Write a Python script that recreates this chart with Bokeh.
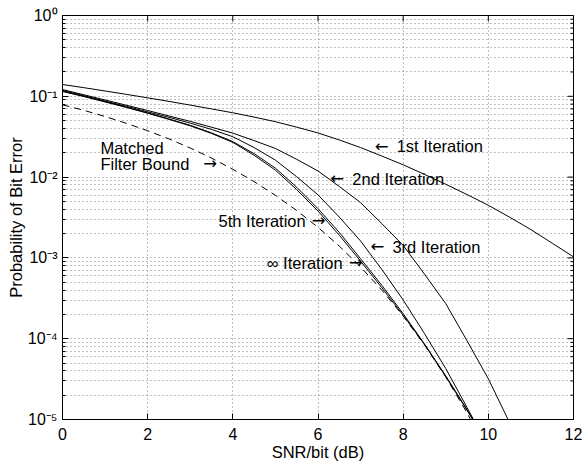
import math
from bokeh.plotting import figure
from bokeh.models import FixedTicker, CustomJSTickFormatter
from bokeh.core.properties import value
from bokeh.embed import file_html
from bokeh.resources import INLINE

# ---------------- data ----------------
snr_db = [0, 0.5, 1, 1.5, 2, 2.5, 3, 3.5, 4, 4.5, 5, 5.5, 6, 6.5, 7, 7.5, 8,
          8.5, 9, 9.5, 10, 10.5, 11, 11.5, 12]

ber_iter1 = [0.1400, 0.1279, 0.1164, 0.1057, 0.0957, 0.0865, 0.0778, 0.0698,
             0.0625, 0.0553, 0.0485, 0.0415, 0.0352, 0.0288, 0.0232, 0.0182,
             0.0142, 0.0108, 0.00815, 0.00608, 0.00448, 0.00319, 0.00224,
             0.00152, 0.00103]
ber_iter2 = [0.1213, 0.1045, 0.0900, 0.0775, 0.0667, 0.0571, 0.0489, 0.0414,
             0.0350, 0.0283, 0.0226, 0.0166, 0.0119, 0.00766, 0.00483, 0.00265,
             0.00143, 6.30e-4, 2.72e-4, 9.42e-5, 3.19e-5, 9.12e-6, 2.54e-6]
ber_iter3 = [0.1180, 0.1019, 0.0875, 0.0752, 0.0641, 0.0550, 0.0465, 0.0389,
             0.0316, 0.0232, 0.0162, 0.0101, 0.00603, 0.00320, 0.00162, 7.16e-4,
             3.02e-4, 1.16e-4, 4.27e-5, 1.41e-5, 4.47e-6]
ber_iter5 = [0.1161, 0.1005, 0.0861, 0.0736, 0.0624, 0.0525, 0.0437, 0.0353,
             0.0275, 0.0195, 0.0129, 0.00750, 0.00407, 0.00207, 9.77e-4, 4.57e-4,
             2.04e-4, 8.61e-5, 3.47e-5, 1.33e-5, 4.90e-6]
ber_iter_inf = [0.1148, 0.0993, 0.0851, 0.0728, 0.0617, 0.0518, 0.0431, 0.0347,
                0.0269, 0.0186, 0.0122, 0.00700, 0.00380, 0.00191, 9.12e-4,
                4.27e-4, 1.95e-4, 8.51e-5, 3.39e-5, 1.30e-5, 4.79e-6]
ber_mfb = [0.0785, 0.0671, 0.0562, 0.0463, 0.0375, 0.0297, 0.0229, 0.0172,
           0.0125, 0.00879, 0.00594, 0.00386, 0.00239, 0.00140, 7.73e-4,
           3.98e-4, 1.91e-4, 8.39e-5, 3.36e-5, 1.21e-5, 3.89e-6]

x_ticks = [0, 2, 4, 6, 8, 10, 12]
y_ticks = [1e-5, 1e-4, 1e-3, 1e-2, 1e-1, 1]
y_minor_mantissas = [2, 3, 4, 5, 6, 7, 8, 9]

# annotations: labels that follow a left arrow (anchor = arrow tip)
after_arrow_text = ["1st Iteration", "2nd Iteration", "3rd Iteration"]
after_arrow_x = [7.33, 6.29, 7.23]
after_arrow_y = [0.0240, 0.0096, 0.00138]
# labels that precede a right arrow (anchor = arrow tip)
before_arrow_text = ["5th Iteration", "\u221e Iteration"]
before_arrow_x = [6.18, 7.05]
before_arrow_y = [0.0029, 0.00087]
# matched filter bound label (two lines) and its arrow tip
mfb_text = ["Matched", "Filter Bound"]
mfb_x = [0.89, 0.89]
mfb_y = [0.0228, 0.0146]
mfb_arrow_x = [3.63]
mfb_arrow_y = [0.0146]

# ---------------- figure ----------------
FONT = "Liberation Sans"
ARROW_FONT = "DejaVu Sans"
TXT = "16.5px"

p = figure(width=582, height=464, x_range=(0, 12), y_range=(1e-5, 1),
           y_axis_type="log", output_backend="svg", toolbar_location=None,
           min_border_top=15, min_border_right=9, min_border_left=62,
           min_border_bottom=45, background_fill_color="white",
           border_fill_color="white")
p.outline_line_color = "black"
p.outline_line_width = 1

minor_y = [m * t for t in y_ticks[:-1] for m in y_minor_mantissas]
yticker = FixedTicker(ticks=y_ticks, minor_ticks=minor_y)
xticker = FixedTicker(ticks=x_ticks, minor_ticks=[])

sup_js = """
const e = Math.round(Math.log10(tick));
const m = {"0":"\u2070","1":"\u00b9","2":"\u00b2","3":"\u00b3","4":"\u2074","5":"\u2075","-":"\u207b"};
let s = "";
for (const c of String(e)) { s += m[c]; }
return "10" + s;
"""
p.yaxis.ticker = yticker
p.yaxis.formatter = CustomJSTickFormatter(code=sup_js)
p.xaxis.ticker = xticker

for ax in (p.xaxis[0], p.yaxis[0]):
    ax.axis_line_color = "black"
    ax.major_tick_line_color = "black"
    ax.minor_tick_line_color = "black"
    ax.major_tick_in = 6
    ax.major_tick_out = 0
    ax.minor_tick_in = 3
    ax.minor_tick_out = 0
    ax.major_label_text_font = FONT
    ax.major_label_text_font_size = "16px"
    ax.major_label_text_color = "black"
    ax.axis_label_text_font = FONT
    ax.axis_label_text_font_size = TXT
    ax.axis_label_text_font_style = "normal"
    ax.axis_label_text_color = "black"

p.xaxis.axis_label = "SNR/bit (dB)"
p.xaxis.major_label_standoff = 8
p.xaxis.axis_label_standoff = 0
p.yaxis.axis_label = "Probability of Bit Error"
p.yaxis.major_label_standoff = 5
p.yaxis.axis_label_standoff = 0

# grid: dotted, MATLAB style
for g in (p.xgrid[0], p.ygrid[0]):
    g.grid_line_color = "#808080"
    g.grid_line_dash = "1 3"
    g.grid_line_width = 1
p.ygrid.minor_grid_line_color = "#808080"
p.ygrid.minor_grid_line_dash = "1 3"
p.ygrid.minor_grid_line_width = 1

# inward ticks on the right and top edges of the box (clipped by the frame)
p.scatter(x=[12] * len(y_ticks), y=y_ticks, marker="dash", size=12,
          line_color="black", line_width=1)
p.scatter(x=[12] * len(minor_y), y=minor_y, marker="dash", size=6,
          line_color="black", line_width=1)
p.scatter(x=x_ticks, y=[1] * len(x_ticks), marker="dash", size=12,
          angle=math.pi / 2, line_color="black", line_width=1)

# curves
p.line(snr_db[:len(ber_iter1)], ber_iter1, line_color="black", line_width=1)
p.line(snr_db[:len(ber_iter2)], ber_iter2, line_color="black", line_width=1)
p.line(snr_db[:len(ber_iter3)], ber_iter3, line_color="black", line_width=1)
p.line(snr_db[:len(ber_iter5)], ber_iter5, line_color="black", line_width=1)
p.line(snr_db[:len(ber_iter_inf)], ber_iter_inf, line_color="black", line_width=1)
p.line(snr_db[:len(ber_mfb)], ber_mfb, line_color="black", line_width=1,
       line_dash="7 5")

# annotations
common = dict(text_font_size=TXT, text_color="black", text_baseline="middle")
p.text(x=after_arrow_x, y=after_arrow_y, text=["\u2190"] * len(after_arrow_x),
       text_font=value(ARROW_FONT), text_align="left", **common)
p.text(x=after_arrow_x, y=after_arrow_y, text=after_arrow_text, x_offset=22,
       text_font=value(FONT), text_align="left", **common)
p.text(x=before_arrow_x, y=before_arrow_y, text=["\u2192"] * len(before_arrow_x),
       text_font=value(ARROW_FONT), text_align="right", **common)
p.text(x=before_arrow_x, y=before_arrow_y, text=before_arrow_text, x_offset=-20,
       text_font=value(FONT), text_align="right", **common)
p.text(x=mfb_x, y=mfb_y, text=mfb_text, text_font=value(FONT),
       text_align="left", **common)
p.text(x=mfb_arrow_x, y=mfb_arrow_y, text=["\u2192"], text_font=value(ARROW_FONT),
       text_align="right", **common)

open("out.html", "w").write(file_html(p, INLINE))
